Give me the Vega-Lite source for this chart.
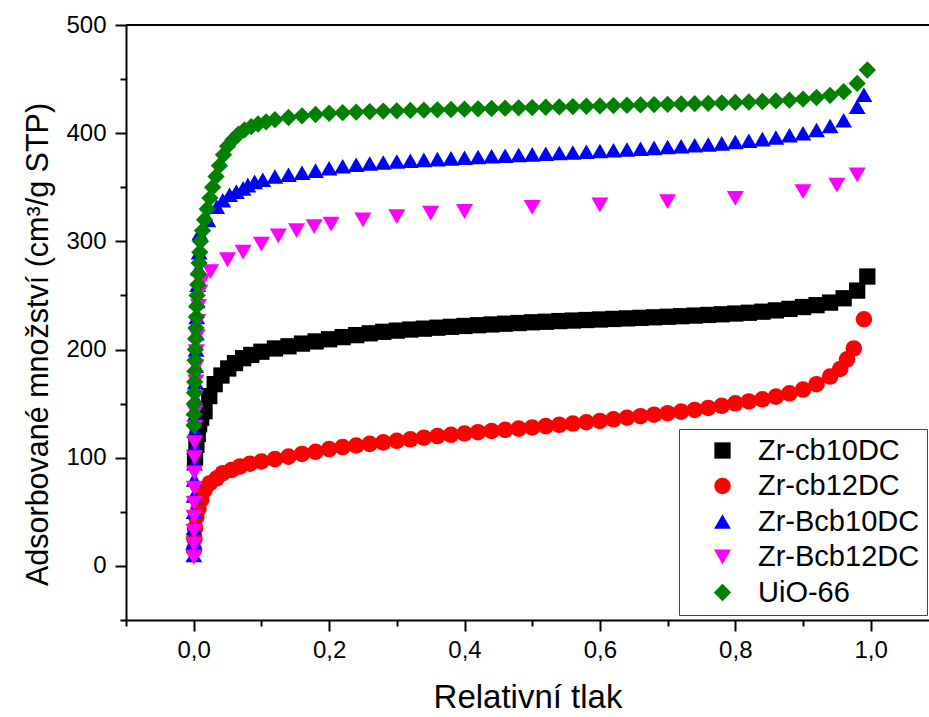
{
  "$schema": "https://vega.github.io/schema/vega-lite/v6.json",
  "width": 803,
  "height": 595,
  "autosize": "none",
  "padding": {"left": 126, "top": 25, "right": 0, "bottom": 97},
  "background": "white",
  "config": {
    "view": {"stroke": null},
    "axis": {
      "domainColor": "black", "domainWidth": 2, "tickColor": "black", "tickWidth": 2,
      "labelFont": "Liberation Sans", "labelFontSize": 24, "labelColor": "black",
      "titleFont": "Liberation Sans", "titleFontWeight": "normal", "titleColor": "black",
      "grid": false, "labelPadding": 9, "labelOverlap": false, "labelFlush": false
    },
    "legend": {
      "labelFont": "Liberation Sans", "labelFontSize": 29, "labelColor": "black", "labelLimit": 400
    }
  },
  "layer": [
    {
      "data": {"values": [{}]},
      "mark": {"type": "rule", "color": "black", "strokeWidth": 2},
      "encoding": {"y": {"datum": 500, "type": "quantitative", "scale": {"domain": [-50, 500], "nice": false, "zero": false}}}
    },
    {
      "data": {"values": [
        {"s":"Zr-cb10DC","x":0.002,"y":100},{"s":"Zr-cb10DC","x":0.004,"y":112},{"s":"Zr-cb10DC","x":0.006,"y":122},{"s":"Zr-cb10DC","x":0.008,"y":131},{"s":"Zr-cb10DC","x":0.011,"y":137},{"s":"Zr-cb10DC","x":0.016,"y":143},{"s":"Zr-cb10DC","x":0.023,"y":157},{"s":"Zr-cb10DC","x":0.031,"y":168},{"s":"Zr-cb10DC","x":0.041,"y":176},{"s":"Zr-cb10DC","x":0.051,"y":182.5},{"s":"Zr-cb10DC","x":0.061,"y":187.5},{"s":"Zr-cb10DC","x":0.073,"y":192},{"s":"Zr-cb10DC","x":0.085,"y":195},{"s":"Zr-cb10DC","x":0.1,"y":198},{"s":"Zr-cb10DC","x":0.12,"y":201},{"s":"Zr-cb10DC","x":0.14,"y":203},{"s":"Zr-cb10DC","x":0.16,"y":205.5},{"s":"Zr-cb10DC","x":0.18,"y":207.5},{"s":"Zr-cb10DC","x":0.2,"y":209.5},
        {"s":"Zr-cb10DC","x":0.22,"y":211.5},{"s":"Zr-cb10DC","x":0.24,"y":213.3},{"s":"Zr-cb10DC","x":0.26,"y":215},{"s":"Zr-cb10DC","x":0.28,"y":216.4},{"s":"Zr-cb10DC","x":0.30,"y":217.5},{"s":"Zr-cb10DC","x":0.32,"y":218.5},{"s":"Zr-cb10DC","x":0.34,"y":219.3},{"s":"Zr-cb10DC","x":0.36,"y":220.2},{"s":"Zr-cb10DC","x":0.38,"y":221},{"s":"Zr-cb10DC","x":0.40,"y":221.8},{"s":"Zr-cb10DC","x":0.42,"y":222.5},{"s":"Zr-cb10DC","x":0.44,"y":223.2},{"s":"Zr-cb10DC","x":0.46,"y":223.9},{"s":"Zr-cb10DC","x":0.48,"y":224.5},{"s":"Zr-cb10DC","x":0.50,"y":225.2},{"s":"Zr-cb10DC","x":0.52,"y":225.7},{"s":"Zr-cb10DC","x":0.54,"y":226.3},{"s":"Zr-cb10DC","x":0.56,"y":226.8},{"s":"Zr-cb10DC","x":0.58,"y":227.3},{"s":"Zr-cb10DC","x":0.60,"y":227.8},{"s":"Zr-cb10DC","x":0.62,"y":228.3},{"s":"Zr-cb10DC","x":0.64,"y":228.8},{"s":"Zr-cb10DC","x":0.66,"y":229.3},{"s":"Zr-cb10DC","x":0.68,"y":229.8},{"s":"Zr-cb10DC","x":0.70,"y":230.3},{"s":"Zr-cb10DC","x":0.72,"y":230.8},{"s":"Zr-cb10DC","x":0.74,"y":231.4},{"s":"Zr-cb10DC","x":0.76,"y":232},{"s":"Zr-cb10DC","x":0.78,"y":232.6},{"s":"Zr-cb10DC","x":0.80,"y":233.3},{"s":"Zr-cb10DC","x":0.82,"y":234},{"s":"Zr-cb10DC","x":0.84,"y":235},{"s":"Zr-cb10DC","x":0.86,"y":236.2},{"s":"Zr-cb10DC","x":0.88,"y":237.6},{"s":"Zr-cb10DC","x":0.90,"y":239.3},{"s":"Zr-cb10DC","x":0.92,"y":241},{"s":"Zr-cb10DC","x":0.94,"y":243.4},{"s":"Zr-cb10DC","x":0.96,"y":247.4},{"s":"Zr-cb10DC","x":0.98,"y":254.5},{"s":"Zr-cb10DC","x":0.995,"y":267.5},

        {"s":"Zr-cb12DC","x":0.0005,"y":15},{"s":"Zr-cb12DC","x":0.001,"y":25},{"s":"Zr-cb12DC","x":0.002,"y":35},{"s":"Zr-cb12DC","x":0.004,"y":45},{"s":"Zr-cb12DC","x":0.007,"y":53},{"s":"Zr-cb12DC","x":0.011,"y":61},{"s":"Zr-cb12DC","x":0.016,"y":70},{"s":"Zr-cb12DC","x":0.024,"y":76.5},{"s":"Zr-cb12DC","x":0.034,"y":81},{"s":"Zr-cb12DC","x":0.043,"y":85.7},{"s":"Zr-cb12DC","x":0.056,"y":88.7},{"s":"Zr-cb12DC","x":0.068,"y":91.8},{"s":"Zr-cb12DC","x":0.083,"y":94.5},{"s":"Zr-cb12DC","x":0.1,"y":96.5},{"s":"Zr-cb12DC","x":0.12,"y":98.7},{"s":"Zr-cb12DC","x":0.14,"y":101},{"s":"Zr-cb12DC","x":0.16,"y":103.5},{"s":"Zr-cb12DC","x":0.18,"y":105.5},{"s":"Zr-cb12DC","x":0.2,"y":108},
        {"s":"Zr-cb12DC","x":0.22,"y":109.8},{"s":"Zr-cb12DC","x":0.24,"y":111.3},{"s":"Zr-cb12DC","x":0.26,"y":112.8},{"s":"Zr-cb12DC","x":0.28,"y":114.2},{"s":"Zr-cb12DC","x":0.30,"y":115.6},{"s":"Zr-cb12DC","x":0.32,"y":117},{"s":"Zr-cb12DC","x":0.34,"y":118.5},{"s":"Zr-cb12DC","x":0.36,"y":120},{"s":"Zr-cb12DC","x":0.38,"y":121.2},{"s":"Zr-cb12DC","x":0.40,"y":122.4},{"s":"Zr-cb12DC","x":0.42,"y":123.6},{"s":"Zr-cb12DC","x":0.44,"y":124.7},{"s":"Zr-cb12DC","x":0.46,"y":125.8},{"s":"Zr-cb12DC","x":0.48,"y":126.9},{"s":"Zr-cb12DC","x":0.50,"y":128},{"s":"Zr-cb12DC","x":0.52,"y":129.2},{"s":"Zr-cb12DC","x":0.54,"y":130.4},{"s":"Zr-cb12DC","x":0.56,"y":131.6},{"s":"Zr-cb12DC","x":0.58,"y":132.8},{"s":"Zr-cb12DC","x":0.60,"y":134},{"s":"Zr-cb12DC","x":0.62,"y":135.5},{"s":"Zr-cb12DC","x":0.64,"y":137},{"s":"Zr-cb12DC","x":0.66,"y":138.4},{"s":"Zr-cb12DC","x":0.68,"y":139.8},{"s":"Zr-cb12DC","x":0.70,"y":141.2},{"s":"Zr-cb12DC","x":0.72,"y":142.6},{"s":"Zr-cb12DC","x":0.74,"y":144.2},{"s":"Zr-cb12DC","x":0.76,"y":146},{"s":"Zr-cb12DC","x":0.78,"y":148},{"s":"Zr-cb12DC","x":0.80,"y":150.3},{"s":"Zr-cb12DC","x":0.82,"y":152},{"s":"Zr-cb12DC","x":0.84,"y":154},{"s":"Zr-cb12DC","x":0.86,"y":156.5},{"s":"Zr-cb12DC","x":0.88,"y":159.5},{"s":"Zr-cb12DC","x":0.90,"y":163},{"s":"Zr-cb12DC","x":0.92,"y":168},{"s":"Zr-cb12DC","x":0.94,"y":175},{"s":"Zr-cb12DC","x":0.955,"y":182},{"s":"Zr-cb12DC","x":0.965,"y":191},{"s":"Zr-cb12DC","x":0.975,"y":201},{"s":"Zr-cb12DC","x":0.99,"y":228},

        {"s":"Zr-Bcb10DC","x":0.0002,"y":10},{"s":"Zr-Bcb10DC","x":0.0003,"y":22},{"s":"Zr-Bcb10DC","x":0.0004,"y":35},{"s":"Zr-Bcb10DC","x":0.0005,"y":50},{"s":"Zr-Bcb10DC","x":0.0006,"y":65},{"s":"Zr-Bcb10DC","x":0.0008,"y":80},{"s":"Zr-Bcb10DC","x":0.001,"y":95},{"s":"Zr-Bcb10DC","x":0.0012,"y":110},{"s":"Zr-Bcb10DC","x":0.0015,"y":125},{"s":"Zr-Bcb10DC","x":0.0018,"y":140},{"s":"Zr-Bcb10DC","x":0.002,"y":155},{"s":"Zr-Bcb10DC","x":0.0025,"y":170},{"s":"Zr-Bcb10DC","x":0.003,"y":185},{"s":"Zr-Bcb10DC","x":0.0035,"y":200},{"s":"Zr-Bcb10DC","x":0.004,"y":215},{"s":"Zr-Bcb10DC","x":0.0045,"y":230},{"s":"Zr-Bcb10DC","x":0.005,"y":245},{"s":"Zr-Bcb10DC","x":0.006,"y":260},{"s":"Zr-Bcb10DC","x":0.007,"y":275},{"s":"Zr-Bcb10DC","x":0.008,"y":290},{"s":"Zr-Bcb10DC","x":0.009,"y":307.5},{"s":"Zr-Bcb10DC","x":0.021,"y":319.8},{"s":"Zr-Bcb10DC","x":0.034,"y":332},{"s":"Zr-Bcb10DC","x":0.043,"y":338},{"s":"Zr-Bcb10DC","x":0.053,"y":343},{"s":"Zr-Bcb10DC","x":0.063,"y":346},{"s":"Zr-Bcb10DC","x":0.073,"y":349},{"s":"Zr-Bcb10DC","x":0.08,"y":352},{"s":"Zr-Bcb10DC","x":0.09,"y":355},{"s":"Zr-Bcb10DC","x":0.102,"y":357},{"s":"Zr-Bcb10DC","x":0.12,"y":360},{"s":"Zr-Bcb10DC","x":0.14,"y":361.6},{"s":"Zr-Bcb10DC","x":0.16,"y":363.5},{"s":"Zr-Bcb10DC","x":0.18,"y":365.4},{"s":"Zr-Bcb10DC","x":0.2,"y":367.5},
        {"s":"Zr-Bcb10DC","x":0.22,"y":369.5},{"s":"Zr-Bcb10DC","x":0.24,"y":370.8},{"s":"Zr-Bcb10DC","x":0.26,"y":371.9},{"s":"Zr-Bcb10DC","x":0.28,"y":372.9},{"s":"Zr-Bcb10DC","x":0.30,"y":373.8},{"s":"Zr-Bcb10DC","x":0.32,"y":374.6},{"s":"Zr-Bcb10DC","x":0.34,"y":375.3},{"s":"Zr-Bcb10DC","x":0.36,"y":376},{"s":"Zr-Bcb10DC","x":0.38,"y":376.7},{"s":"Zr-Bcb10DC","x":0.40,"y":377.3},{"s":"Zr-Bcb10DC","x":0.42,"y":378},{"s":"Zr-Bcb10DC","x":0.44,"y":378.6},{"s":"Zr-Bcb10DC","x":0.46,"y":379.2},{"s":"Zr-Bcb10DC","x":0.48,"y":379.8},{"s":"Zr-Bcb10DC","x":0.50,"y":380.4},{"s":"Zr-Bcb10DC","x":0.52,"y":381},{"s":"Zr-Bcb10DC","x":0.54,"y":381.6},{"s":"Zr-Bcb10DC","x":0.56,"y":382.2},{"s":"Zr-Bcb10DC","x":0.58,"y":382.8},{"s":"Zr-Bcb10DC","x":0.60,"y":383.5},{"s":"Zr-Bcb10DC","x":0.62,"y":384.2},{"s":"Zr-Bcb10DC","x":0.64,"y":384.9},{"s":"Zr-Bcb10DC","x":0.66,"y":385.6},{"s":"Zr-Bcb10DC","x":0.68,"y":386.4},{"s":"Zr-Bcb10DC","x":0.70,"y":387.2},{"s":"Zr-Bcb10DC","x":0.72,"y":388},{"s":"Zr-Bcb10DC","x":0.74,"y":388.8},{"s":"Zr-Bcb10DC","x":0.76,"y":389.6},{"s":"Zr-Bcb10DC","x":0.78,"y":390.6},{"s":"Zr-Bcb10DC","x":0.80,"y":391.8},{"s":"Zr-Bcb10DC","x":0.82,"y":393},{"s":"Zr-Bcb10DC","x":0.84,"y":394.5},{"s":"Zr-Bcb10DC","x":0.86,"y":396},{"s":"Zr-Bcb10DC","x":0.88,"y":398},{"s":"Zr-Bcb10DC","x":0.90,"y":400},{"s":"Zr-Bcb10DC","x":0.92,"y":403},{"s":"Zr-Bcb10DC","x":0.94,"y":406.6},{"s":"Zr-Bcb10DC","x":0.96,"y":412},{"s":"Zr-Bcb10DC","x":0.98,"y":424.5},{"s":"Zr-Bcb10DC","x":0.99,"y":435.5},

        {"s":"Zr-Bcb12DC","x":0.0002,"y":8},{"s":"Zr-Bcb12DC","x":0.0003,"y":20},{"s":"Zr-Bcb12DC","x":0.0004,"y":32},{"s":"Zr-Bcb12DC","x":0.0005,"y":45},{"s":"Zr-Bcb12DC","x":0.0006,"y":58},{"s":"Zr-Bcb12DC","x":0.0008,"y":72},{"s":"Zr-Bcb12DC","x":0.001,"y":86},{"s":"Zr-Bcb12DC","x":0.0012,"y":100},{"s":"Zr-Bcb12DC","x":0.0015,"y":114},{"s":"Zr-Bcb12DC","x":0.0018,"y":128},{"s":"Zr-Bcb12DC","x":0.002,"y":142},{"s":"Zr-Bcb12DC","x":0.0025,"y":156},{"s":"Zr-Bcb12DC","x":0.003,"y":170},{"s":"Zr-Bcb12DC","x":0.0035,"y":184},{"s":"Zr-Bcb12DC","x":0.004,"y":198},{"s":"Zr-Bcb12DC","x":0.005,"y":212},{"s":"Zr-Bcb12DC","x":0.006,"y":226},{"s":"Zr-Bcb12DC","x":0.007,"y":240},{"s":"Zr-Bcb12DC","x":0.009,"y":253},{"s":"Zr-Bcb12DC","x":0.012,"y":263},{"s":"Zr-Bcb12DC","x":0.025,"y":272},{"s":"Zr-Bcb12DC","x":0.05,"y":283},{"s":"Zr-Bcb12DC","x":0.073,"y":290},{"s":"Zr-Bcb12DC","x":0.1,"y":297.5},{"s":"Zr-Bcb12DC","x":0.125,"y":305},{"s":"Zr-Bcb12DC","x":0.152,"y":310},{"s":"Zr-Bcb12DC","x":0.178,"y":313.6},{"s":"Zr-Bcb12DC","x":0.203,"y":316},{"s":"Zr-Bcb12DC","x":0.25,"y":319.8},{"s":"Zr-Bcb12DC","x":0.3,"y":322.8},{"s":"Zr-Bcb12DC","x":0.35,"y":326},{"s":"Zr-Bcb12DC","x":0.4,"y":327.6},{"s":"Zr-Bcb12DC","x":0.5,"y":331.5},{"s":"Zr-Bcb12DC","x":0.6,"y":333.6},{"s":"Zr-Bcb12DC","x":0.7,"y":336.7},{"s":"Zr-Bcb12DC","x":0.8,"y":339.8},{"s":"Zr-Bcb12DC","x":0.9,"y":346},{"s":"Zr-Bcb12DC","x":0.95,"y":352},{"s":"Zr-Bcb12DC","x":0.98,"y":361.4},

        {"s":"UiO-66","x":0.0005,"y":130},{"s":"UiO-66","x":0.0008,"y":140},{"s":"UiO-66","x":0.001,"y":150},{"s":"UiO-66","x":0.0012,"y":160},{"s":"UiO-66","x":0.0015,"y":170},{"s":"UiO-66","x":0.0018,"y":180},{"s":"UiO-66","x":0.002,"y":190},{"s":"UiO-66","x":0.0025,"y":200},{"s":"UiO-66","x":0.003,"y":210},{"s":"UiO-66","x":0.0035,"y":220},{"s":"UiO-66","x":0.004,"y":230},{"s":"UiO-66","x":0.0045,"y":240},{"s":"UiO-66","x":0.005,"y":250},{"s":"UiO-66","x":0.006,"y":260},{"s":"UiO-66","x":0.007,"y":270},{"s":"UiO-66","x":0.008,"y":280},{"s":"UiO-66","x":0.009,"y":290},{"s":"UiO-66","x":0.01,"y":300},{"s":"UiO-66","x":0.013,"y":310},{"s":"UiO-66","x":0.016,"y":320},{"s":"UiO-66","x":0.02,"y":330},{"s":"UiO-66","x":0.024,"y":340},{"s":"UiO-66","x":0.028,"y":350},{"s":"UiO-66","x":0.033,"y":360},{"s":"UiO-66","x":0.038,"y":370},{"s":"UiO-66","x":0.044,"y":380},{"s":"UiO-66","x":0.05,"y":388},{"s":"UiO-66","x":0.058,"y":394},{"s":"UiO-66","x":0.066,"y":399},{"s":"UiO-66","x":0.075,"y":403},{"s":"UiO-66","x":0.085,"y":406},{"s":"UiO-66","x":0.095,"y":408.5},{"s":"UiO-66","x":0.107,"y":410.5},{"s":"UiO-66","x":0.12,"y":412.5},{"s":"UiO-66","x":0.14,"y":414.5},{"s":"UiO-66","x":0.16,"y":416},{"s":"UiO-66","x":0.18,"y":417.3},{"s":"UiO-66","x":0.2,"y":418.4},
        {"s":"UiO-66","x":0.22,"y":419},{"s":"UiO-66","x":0.24,"y":419.5},{"s":"UiO-66","x":0.26,"y":420},{"s":"UiO-66","x":0.28,"y":420.4},{"s":"UiO-66","x":0.30,"y":420.7},{"s":"UiO-66","x":0.32,"y":421},{"s":"UiO-66","x":0.34,"y":421.3},{"s":"UiO-66","x":0.36,"y":421.6},{"s":"UiO-66","x":0.38,"y":421.9},{"s":"UiO-66","x":0.40,"y":422.2},{"s":"UiO-66","x":0.42,"y":422.5},{"s":"UiO-66","x":0.44,"y":422.8},{"s":"UiO-66","x":0.46,"y":423.1},{"s":"UiO-66","x":0.48,"y":423.4},{"s":"UiO-66","x":0.50,"y":423.7},{"s":"UiO-66","x":0.52,"y":424},{"s":"UiO-66","x":0.54,"y":424.3},{"s":"UiO-66","x":0.56,"y":424.6},{"s":"UiO-66","x":0.58,"y":424.9},{"s":"UiO-66","x":0.60,"y":425.2},{"s":"UiO-66","x":0.62,"y":425.5},{"s":"UiO-66","x":0.64,"y":425.8},{"s":"UiO-66","x":0.66,"y":426.1},{"s":"UiO-66","x":0.68,"y":426.4},{"s":"UiO-66","x":0.70,"y":426.7},{"s":"UiO-66","x":0.72,"y":427},{"s":"UiO-66","x":0.74,"y":427.3},{"s":"UiO-66","x":0.76,"y":427.6},{"s":"UiO-66","x":0.78,"y":428},{"s":"UiO-66","x":0.80,"y":428.4},{"s":"UiO-66","x":0.82,"y":428.8},{"s":"UiO-66","x":0.84,"y":429.3},{"s":"UiO-66","x":0.86,"y":429.8},{"s":"UiO-66","x":0.88,"y":430.5},{"s":"UiO-66","x":0.90,"y":431.5},{"s":"UiO-66","x":0.92,"y":433},{"s":"UiO-66","x":0.94,"y":435},{"s":"UiO-66","x":0.96,"y":438.4},{"s":"UiO-66","x":0.98,"y":446},{"s":"UiO-66","x":0.995,"y":458.4}
      ]},
      "mark": {"type": "point", "filled": true, "opacity": 1, "strokeWidth": 0},
      "encoding": {
        "x": {
          "field": "x", "type": "quantitative",
          "scale": {"domain": [-0.1, 1.0861], "nice": false, "zero": false},
          "axis": {
            "title": "Relativní tlak",
            "titleFontSize": 33,
            "values": [-0.1, 0, 0.1, 0.2, 0.3, 0.4, 0.5, 0.6, 0.7, 0.8, 0.9, 1.0],
            "labelExpr": "round(datum.value*10) % 2 == 0 ? replace(format(datum.value, '.1f'), '.', ',') : ''",
            "tickSize": {"condition": {"test": "round(datum.value*10) % 2 != 0", "value": 6}, "value": 11},
            "labelPadding": 7,
            "titlePadding": 19
          }
        },
        "y": {
          "field": "y", "type": "quantitative",
          "scale": {"domain": [-50, 500], "nice": false, "zero": false},
          "axis": {
            "title": "Adsorbované množství (cm³/g STP)",
            "titleFontSize": 30.5,
            "titleY": 319,
            "values": [-50, 0, 50, 100, 150, 200, 250, 300, 350, 400, 450, 500],
            "labelExpr": "datum.value % 100 == 0 ? format(datum.value, 'd') : ''",
            "tickSize": {"condition": {"test": "datum.value % 100 != 0", "value": 6}, "value": 11},
            "titlePadding": 12
          }
        },
        "color": {
          "field": "s", "type": "nominal",
          "scale": {"domain": ["Zr-cb10DC", "Zr-cb12DC", "Zr-Bcb10DC", "Zr-Bcb12DC", "UiO-66"], "range": ["#000000", "#ff0000", "#0000ff", "#ff00ff", "#008000"]},
          "legend": {
            "title": null, "orient": "none", "legendX": 553, "legendY": 404,
            "strokeColor": "#444444", "fillColor": "white", "padding": 7,
            "rowPadding": 5.5, "symbolOffset": 22, "labelOffset": 21, "labelLimit": 400
          }
        },
        "shape": {
          "field": "s", "type": "nominal",
          "scale": {"domain": ["Zr-cb10DC", "Zr-cb12DC", "Zr-Bcb10DC", "Zr-Bcb12DC", "UiO-66"], "range": ["square", "circle", "triangle-up", "triangle-down", "diamond"]},
          "legend": {
            "title": null, "orient": "none", "legendX": 553, "legendY": 404,
            "strokeColor": "#444444", "fillColor": "white", "padding": 7,
            "rowPadding": 5.5, "symbolOffset": 22, "labelOffset": 21, "labelLimit": 400
          }
        },
        "size": {
          "field": "s", "type": "nominal",
          "scale": {"domain": ["Zr-cb10DC", "Zr-cb12DC", "Zr-Bcb10DC", "Zr-Bcb12DC", "UiO-66"], "range": [265, 300, 390, 440, 340]},
          "legend": {
            "title": null, "orient": "none", "legendX": 553, "legendY": 404,
            "strokeColor": "#444444", "fillColor": "white", "padding": 7,
            "rowPadding": 5.5, "symbolOffset": 22, "labelOffset": 21, "labelLimit": 400
          }
        }
      }
    }
  ]
}
